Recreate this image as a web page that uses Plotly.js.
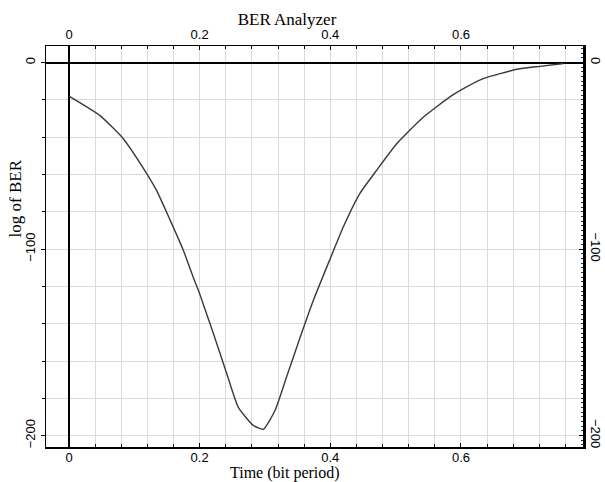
<!DOCTYPE html>
<html><head><meta charset="utf-8">
<script src="https://cdn.plot.ly/plotly-3.0.1.min.js"></script>
<style>html,body{margin:0;padding:0;background:#fff;} #chart{width:605px;height:482px;}</style>
</head><body><div id="chart"></div>
<script>
// Time (bit period) and log of BER
const timeBitPeriod = [0, 0.047, 0.081, 0.109, 0.134, 0.155, 0.175, 0.19, 0.2, 0.221, 0.2415, 0.259, 0.282, 0.2975, 0.3155, 0.333, 0.354, 0.374, 0.40, 0.42, 0.4456, 0.471, 0.502, 0.5426, 0.583, 0.599, 0.634, 0.686, 0.721, 0.757];
const logBER = [-18, -28.3, -39.9, -54, -68.5, -84.6, -100.6, -115, -123.9, -145.3, -166.8, -184.7, -194.5, -196.6, -186.4, -168.6, -147.1, -127.5, -105, -88, -70, -57.7, -43.4, -29.2, -18.4, -14.9, -8.6, -3.6, -2, -0.5];

const chartTitle = 'BER Analyzer';
const xTitle = 'Time (bit period)';
const yTitle = 'log of BER';

const xRange = [-0.0352, 0.7868];
const yRange = [-206.1, 8.9];

const tickFont = {family: 'Liberation Sans, Arial, sans-serif', size: 13, color: '#000'};
const titleFont = {family: 'Liberation Serif, Times New Roman, serif', size: 17, color: '#000'};
const xTitleFont = {family: 'Liberation Serif, Times New Roman, serif', size: 16, color: '#000'};
const gridC = '#dadada';

const trace = {
  x: timeBitPeriod, y: logBER, type: 'scatter', mode: 'lines',
  line: {color: '#3a3a3a', width: 1.4, shape: 'spline', smoothing: 0.5}, hoverinfo: 'x+y', showlegend: false
};
// empty trace so that the mirrored top / right axes are drawn
const axisHolder = {x: [], y: [], type: 'scatter', mode: 'lines', xaxis: 'x2', yaxis: 'y2', showlegend: false, hoverinfo: 'skip'};

const layout = {
  width: 605, height: 482,
  margin: {l: 46, r: 22, t: 46, b: 35, pad: 0},
  paper_bgcolor: '#fff', plot_bgcolor: '#fff',
  showlegend: false,
  title: {text: chartTitle, font: titleFont, x: 287/605, xref: 'container', xanchor: 'center', y: 1 - 19/482, yref: 'container', yanchor: 'middle'},
  xaxis: {
    range: xRange, tick0: 0, dtick: 0.2, showgrid: true, gridcolor: gridC, gridwidth: 1,
    zeroline: true, zerolinecolor: '#000', zerolinewidth: 2,
    showline: true, linecolor: '#000', linewidth: 2, mirror: false,
    ticks: 'inside', ticklen: 4, tickcolor: '#000', tickfont: tickFont, ticklabelstandoff: -3,
    minor: {dtick: 0.04, tick0: 0, showgrid: true, gridcolor: gridC, gridwidth: 1, ticks: 'inside', ticklen: 3, tickcolor: '#000'}
  },
  xaxis2: {
    overlaying: 'x', side: 'top', anchor: 'y', range: xRange, tick0: 0, dtick: 0.2,
    showgrid: false, zeroline: false, showline: true, linecolor: '#000', linewidth: 1.5,
    ticks: 'inside', ticklen: 4, tickcolor: '#000', tickfont: tickFont,
    minor: {dtick: 0.04, tick0: 0, showgrid: false, ticks: 'inside', ticklen: 3, tickcolor: '#000'}
  },
  yaxis: {
    range: yRange, tick0: 0, dtick: 100, tickangle: -90, showgrid: true, gridcolor: gridC, gridwidth: 1,
    zeroline: true, zerolinecolor: '#000', zerolinewidth: 2,
    showline: true, linecolor: '#000', linewidth: 1.5,
    ticks: 'outside', ticklen: 4, tickcolor: '#000', tickfont: tickFont,
    minor: {dtick: 20, tick0: 0, showgrid: true, gridcolor: gridC, gridwidth: 1, ticks: 'outside', ticklen: 3, tickcolor: '#000'}
  },
  yaxis2: {
    overlaying: 'y', side: 'right', anchor: 'x', range: yRange, tick0: 0, dtick: 100, tickangle: 90,
    showgrid: false, zeroline: false, showline: true, linecolor: '#000', linewidth: 2.5,
    ticks: 'inside', ticklen: 4, tickcolor: '#000', tickfont: tickFont,
    minor: {dtick: 2.5, tick0: 0, showgrid: false, ticks: 'inside', ticklen: 2, tickcolor: '#333'}
  },
  annotations: [
    {text: xTitle, xref: 'paper', yref: 'paper', x: 0.445, y: -0.0636, xanchor: 'center', yanchor: 'middle', showarrow: false, font: xTitleFont},
    {text: yTitle, xref: 'paper', yref: 'paper', x: -0.0577, y: 0.62, xanchor: 'center', yanchor: 'middle', textangle: -90, showarrow: false, font: titleFont}
  ]
};

Plotly.newPlot('chart', [trace, axisHolder], layout, {displayModeBar: false, staticPlot: true});
</script>
</body></html>
